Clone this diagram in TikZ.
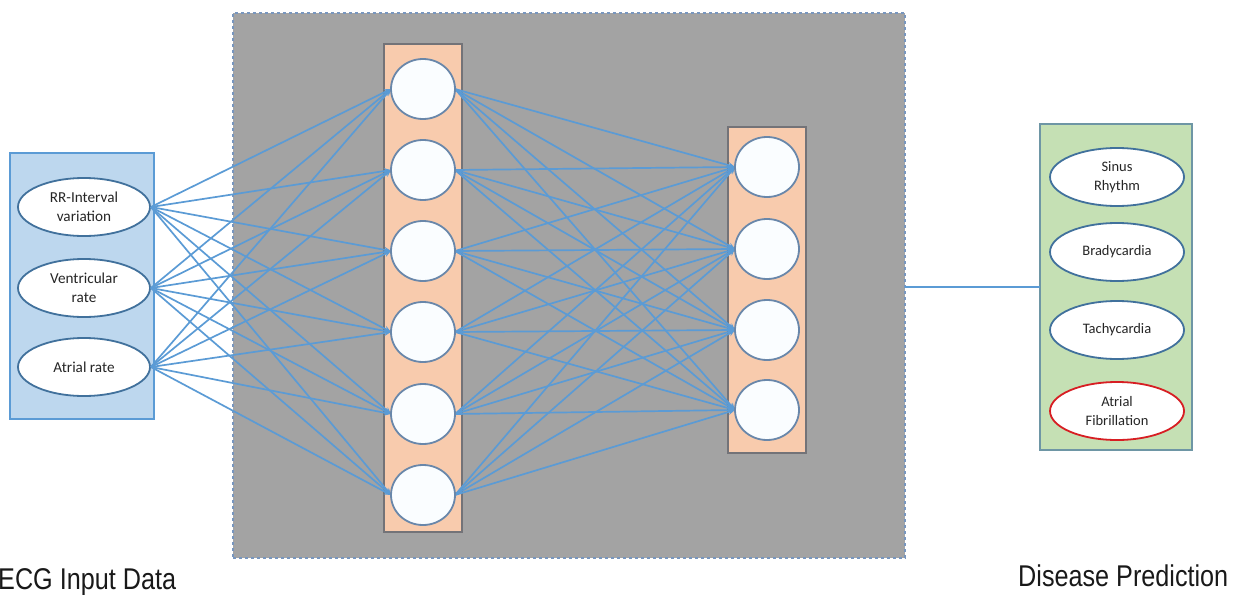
\documentclass[tikz,border=0pt]{standalone}
\usepackage{fontspec}
\setmainfont{Carlito}
\newfontfamily\arialf{Liberation Sans}
\usetikzlibrary{arrows.meta,shapes.geometric}
\definecolor{lineblue}{RGB}{91,155,213}
\definecolor{boxblue}{RGB}{189,215,238}
\definecolor{ellborder}{RGB}{65,113,156}
\definecolor{graybg}{RGB}{163,163,163}
\definecolor{dashborder}{RGB}{120,150,190}
\definecolor{orangefill}{RGB}{248,203,173}
\definecolor{colborder}{RGB}{115,115,120}
\definecolor{circborder}{RGB}{105,135,170}
\definecolor{circfill}{RGB}{250,253,255}
\definecolor{greenfill}{RGB}{197,224,180}
\definecolor{greenborder}{RGB}{110,150,165}
\definecolor{redborder}{RGB}{215,30,35}
\tikzset{
  panel/.style={draw, rectangle, inner sep=0pt, outer sep=0pt},
  inell/.style={draw=ellborder, line width=1.8pt, fill=white, ellipse, inner sep=0pt,
    minimum width=132pt, minimum height=58pt, align=center,
    font=\fontsize{15.2}{19}\selectfont, text=black!85},
  outell/.style={inell, minimum width=134pt, font=\fontsize{14.5}{18.5}\selectfont},
  neuron/.style={draw=circborder, line width=1.8pt, fill=circfill, ellipse, inner sep=0pt,
    minimum width=64pt, minimum height=60pt},
  conn/.style={draw=lineblue, line width=1.7pt, -{Stealth[length=7pt,width=6pt]}},
  caption/.style={anchor=base west, inner sep=0pt, font=\arialf\fontsize{30}{36}\selectfont, text=black!90}
}
\begin{document}
\begin{tikzpicture}[x=1pt,y=-1pt]
\useasboundingbox (0,0) rectangle (1246,594);
% panels
\node[panel, draw=lineblue, line width=1.5pt, fill=boxblue, minimum width=144pt, minimum height=266pt] (inbox) at (82,286) {};
\node[panel, draw=dashborder, dashed, line width=1.2pt, fill=graybg, minimum width=672pt, minimum height=545pt] (hidden) at (569,285.5) {};
\node[panel, draw=colborder, line width=1.3pt, fill=orangefill, minimum width=78pt, minimum height=488pt] (col1) at (423,288) {};
\node[panel, draw=colborder, line width=1.3pt, fill=orangefill, minimum width=78pt, minimum height=326pt] (col2) at (767,290) {};
\node[panel, draw=greenborder, line width=1.5pt, fill=greenfill, minimum width=152pt, minimum height=326pt] (outbox) at (1116,287) {};
% input ellipses
\node[inell] (i1) at (84,207) {RR-Interval\\variation};
\node[inell] (i2) at (84,288) {Ventricular\\rate};
\node[inell] (i3) at (84,367) {Atrial rate};
% output ellipses
\node[outell] (o1) at (1117,177) {Sinus\\Rhythm};
\node[outell] (o2) at (1117,252) {Bradycardia};
\node[outell] (o3) at (1117,330) {Tachycardia};
\node[outell, draw=redborder] (o4) at (1117,411) {Atrial\\Fibrillation};
% neuron coordinates
\foreach \k/\y in {1/89,2/170,3/251,4/332,5/414,6/495}
  \coordinate (hp\k) at (423,\y);
\foreach \k/\y in {1/167,2/249,3/330,4/410}
  \coordinate (gp\k) at (767,\y);
% connectors
\foreach \i in {1,2,3}
  \foreach \k/\y in {1/89,2/170,3/251,4/332,5/414,6/495}
    \draw[conn] (i\i.east) -- (391,\y);
\foreach \k/\y in {1/89,2/170,3/251,4/332,5/414,6/495}
  \foreach \m/\z in {1/167,2/249,3/330,4/410}
    \draw[conn] (455,\y) -- (735,\z);
% neurons
\foreach \k in {1,...,6}
  \node[neuron] (h\k) at (hp\k) {};
\foreach \k in {1,...,4}
  \node[neuron] (g\k) at (gp\k) {};
% output link
\draw[draw=lineblue, line width=2pt] (hidden.east |- outbox.west) -- (outbox.west);
% captions
\node[caption] (ecg) at (-2,589) {\scalebox{0.84}[1]{ECG Input Data}};
\node[caption] (dis) at (1018,586) {\scalebox{0.84}[1]{Disease Prediction}};
\end{tikzpicture}
\end{document}
